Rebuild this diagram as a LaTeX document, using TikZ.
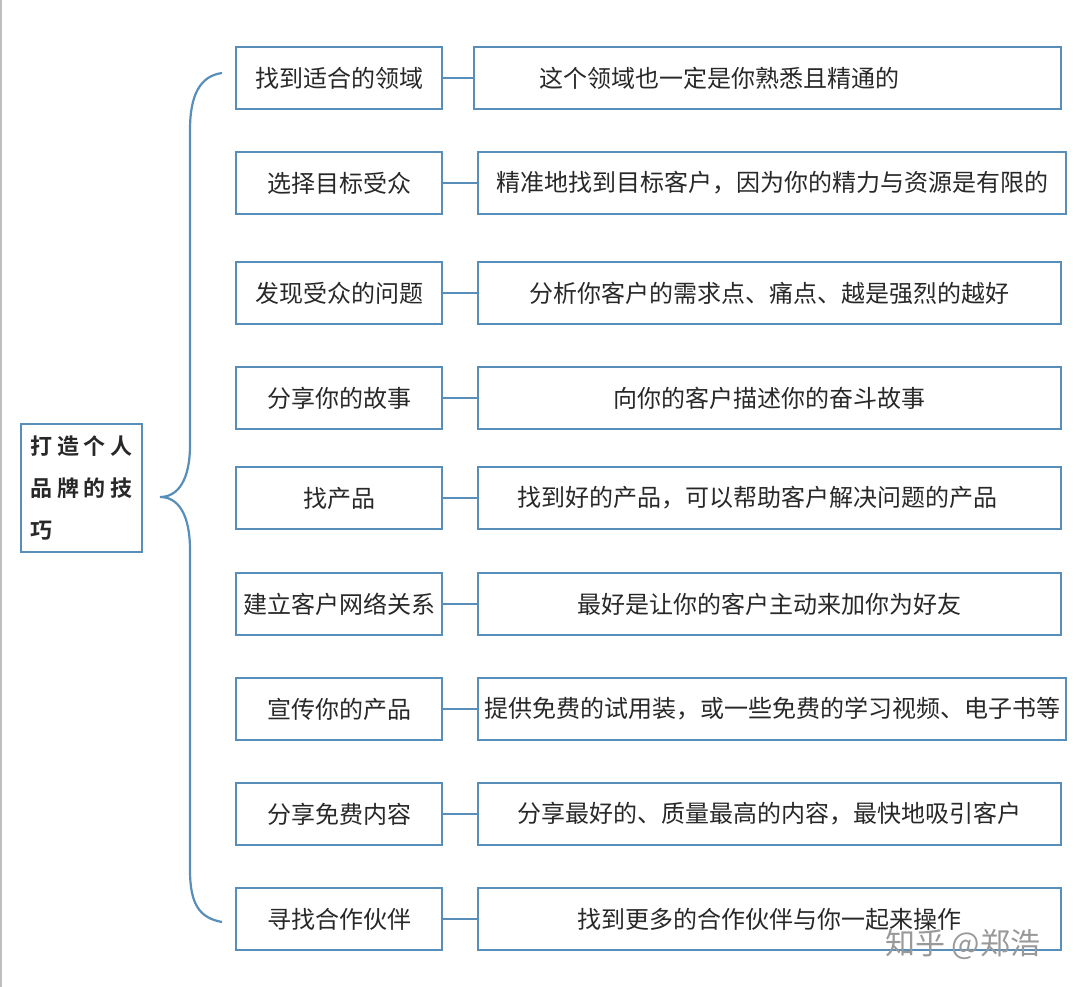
\documentclass[tikz,border=0pt]{standalone}
\usepackage{fontspec}
\setmainfont{Noto Sans CJK SC}
\newfontfamily\rootfont[LetterSpace=20]{Noto Sans CJK SC Bold}
\newfontfamily\markfont{Noto Sans CJK SC}
\usetikzlibrary{positioning}
\definecolor{linkblue}{RGB}{88,142,186}
\definecolor{inkgray}{RGB}{40,40,40}

\begin{document}
\begin{tikzpicture}[x=1pt,y=-1pt,every node/.style={draw=linkblue, line width=2.2pt, inner sep=0pt, text=inkgray, font=\fontsize{24}{28}\selectfont},topic/.style={minimum width=206pt, minimum height=62pt},detail/.style={minimum width=583pt, minimum height=62pt},widedetail/.style={minimum width=588pt, minimum height=62pt},link/.style={draw=linkblue, line width=2.2pt}]
\useasboundingbox (0,0) rectangle (1080,987);
\draw[black!25, line width=1.5pt] (1,0) -- (1,987);
\node[minimum width=121pt, minimum height=128pt, align=left, font=\rootfont\fontsize{22}{42}\selectfont] (root) at (81.5,488) {打造个人\\品牌的技\\巧};
% topics and their details
\node[topic] (t1) at (339,78) {找到适合的领域};
\node[minimum width=587pt, minimum height=62pt] (d1) at (767.5,78) {这个领域也一定是你熟悉且精通的\kern96pt};
\node[topic] (t2) at (339,183) {选择目标受众};
\node[widedetail] (d2) at (772,183) {精准地找到目标客户，因为你的精力与资源是有限的};
\node[topic] (t3) at (339,293) {发现受众的问题};
\node[detail] (d3) at (769.5,293) {分析你客户的需求点、痛点、越是强烈的越好};
\node[topic] (t4) at (339,398) {分享你的故事};
\node[detail] (d4) at (769.5,398) {向你的客户描述你的奋斗故事};
\node[topic] (t5) at (339,498) {找产品};
\node[detail] (d5) at (769.5,498) {找到好的产品，可以帮助客户解决问题的产品\kern24pt};
\node[topic] (t6) at (339,604) {建立客户网络关系};
\node[detail] (d6) at (769.5,604) {最好是让你的客户主动来加你为好友};
\node[topic] (t7) at (339,709) {宣传你的产品};
\node[widedetail] (d7) at (772,709) {提供免费的试用装，或一些免费的学习视频、电子书等};
\node[topic] (t8) at (339,814) {分享免费内容};
\node[detail] (d8) at (769.5,814) {分享最好的、质量最高的内容，最快地吸引客户};
\node[topic] (t9) at (339,919) {寻找合作伙伴};
\node[detail] (d9) at (769.5,919) {找到更多的合作伙伴与你一起来操作};
\foreach \i in {1,...,9} \draw[link] (t\i.east) -- (d\i.west);
% brace
\coordinate (bracetop) at (222,73);
\coordinate (bracetip) at (160,497);
\coordinate (bracebot) at (222,922);
\draw[link] (bracetop) .. controls (200,76) and (190,95) .. (190,130) -- (190,445) .. controls (190,480) and (178,497) .. (bracetip) .. controls (178,497) and (190,514) .. (190,550) -- (190,870) .. controls (190,905) and (200,918) .. (bracebot);
\node[draw=none, anchor=west, text=black!40, font=\markfont\fontsize{30}{30}\selectfont] (mark) at (884,944) {知乎 @郑浩};
\end{tikzpicture}
\end{document}
